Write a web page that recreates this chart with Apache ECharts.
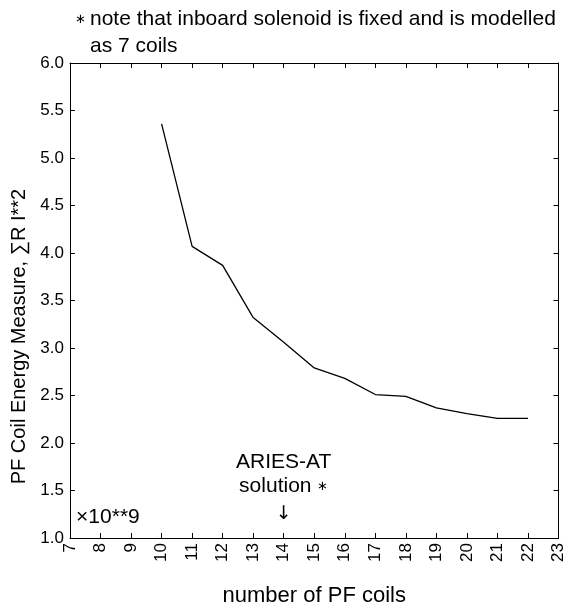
<!DOCTYPE html>
<html>
<head>
<meta charset="utf-8">
<script src="https://cdn.jsdelivr.net/npm/echarts@6/dist/echarts.min.js"></script>
<style>
  html, body { margin: 0; padding: 0; background: #fff; }
  #chart { width: 567px; height: 612px; }
</style>
</head>
<body>
<div id="chart"></div>
<script>
// 数据 (units of 10**9)
var coils = [10, 11, 12, 13, 14, 15, 16, 17, 18, 19, 20, 21, 22]
var energy = [5.36, 4.07, 3.87, 3.32, 3.06, 2.79, 2.68, 2.51, 2.49, 2.37, 2.31, 2.26, 2.26]
var xTicks = [7, 8, 9, 10, 11, 12, 13, 14, 15, 16, 17, 18, 19, 20, 21, 22, 23]
var yTicks = [1.0, 1.5, 2.0, 2.5, 3.0, 3.5, 4.0, 4.5, 5.0, 5.5, 6.0]
// 注释文字的位置（数据坐标）
var ariesAt = [14, 1.67]
var arrowAt = [14, 1.25]
var scaleNoteAt = [7.2, 1.22]

var font = 'Liberation Sans, Arial, Helvetica, sans-serif'
var black = '#000'

var points = coils.map(function (c, i) { return [c, energy[i]] })

var chart = echarts.init(document.getElementById('chart'))

// 共用的坐标轴样式（四周封闭 + 刻度朝内）
function boxAxis (extra) {
  return Object.assign({
    type: 'value',
    axisLine: { show: true, onZero: false, lineStyle: { color: black, width: 1 } },
    axisTick: { show: true, inside: true, length: 5, lineStyle: { color: black } },
    splitLine: { show: false }
  }, extra)
}

function noteLabel (text, extra) {
  return Object.assign({
    show: true,
    position: 'inside',
    formatter: text,
    fontFamily: font,
    fontSize: 21,
    color: black,
    textBorderWidth: 0,
    textBorderColor: 'transparent',
    align: 'center',
    verticalAlign: 'middle'
  }, extra)
}

var option = {
  animation: false,
  backgroundColor: '#fff',
  title: {
    text: '{a|∗}note that inboard solenoid is fixed and is modelled\n{a|}as 7 coils',
    left: 70,
    top: 1,
    textAlign: 'left',
    textStyle: {
      fontFamily: font,
      fontSize: 21,
      fontWeight: 'normal',
      color: black,
      lineHeight: 27,
      rich: {
        a: { width: 15, fontSize: 13, fontFamily: font, color: black, lineHeight: 27 }
      }
    }
  },
  grid: { left: 70, right: 7, top: 63, bottom: 61, containLabel: false },
  xAxis: [
    boxAxis({
      min: xTicks[0],
      max: xTicks[xTicks.length - 1],
      interval: 1,
      position: 'bottom',
      name: 'number of PF coils',
      nameLocation: 'middle',
      nameGap: 47,
      nameTextStyle: { fontFamily: font, fontSize: 22, color: black },
      axisLabel: { rotate: 90, margin: 5, fontFamily: font, fontSize: 17, color: black }
    }),
    boxAxis({
      min: xTicks[0],
      max: xTicks[xTicks.length - 1],
      interval: 1,
      position: 'top',
      axisLabel: { show: false }
    })
  ],
  yAxis: [
    boxAxis({
      min: yTicks[0],
      max: yTicks[yTicks.length - 1],
      interval: 0.5,
      position: 'left',
      name: 'PF Coil Energy Measure, ∑R I**2',
      nameLocation: 'middle',
      nameGap: 35,
      nameTextStyle: { fontFamily: font, fontSize: 20, color: black, padding: [0, 72, 0, 0] },
      axisLabel: {
        margin: 6,
        fontFamily: font,
        fontSize: 17,
        color: black,
        formatter: function (v) { return v.toFixed(1) }
      }
    }),
    boxAxis({
      min: yTicks[0],
      max: yTicks[yTicks.length - 1],
      interval: 0.5,
      position: 'right',
      axisLabel: { show: false }
    })
  ],
  series: [
    {
      type: 'line',
      data: points,
      showSymbol: false,
      symbol: 'none',
      lineStyle: { color: black, width: 1.3 }
    },
    {
      // 注释
      type: 'scatter',
      symbolSize: 0,
      silent: true,
      itemStyle: { color: black, opacity: 1 },
      data: [
        { value: ariesAt, label: noteLabel('ARIES-AT\nsolution {s|∗}', { lineHeight: 24, rich: { s: { fontSize: 13, fontFamily: font, color: black } } }) },
        { value: arrowAt, label: noteLabel('↓', { fontFamily: 'DejaVu Sans, sans-serif', fontSize: 19 }) },
        { value: scaleNoteAt, label: noteLabel('×10**9', { position: 'right', distance: 0, align: 'left' }) }
      ]
    }
  ]
}

chart.setOption(option)
window.onresize = function () {
  chart.resize()
}
</script>
</body>
</html>
